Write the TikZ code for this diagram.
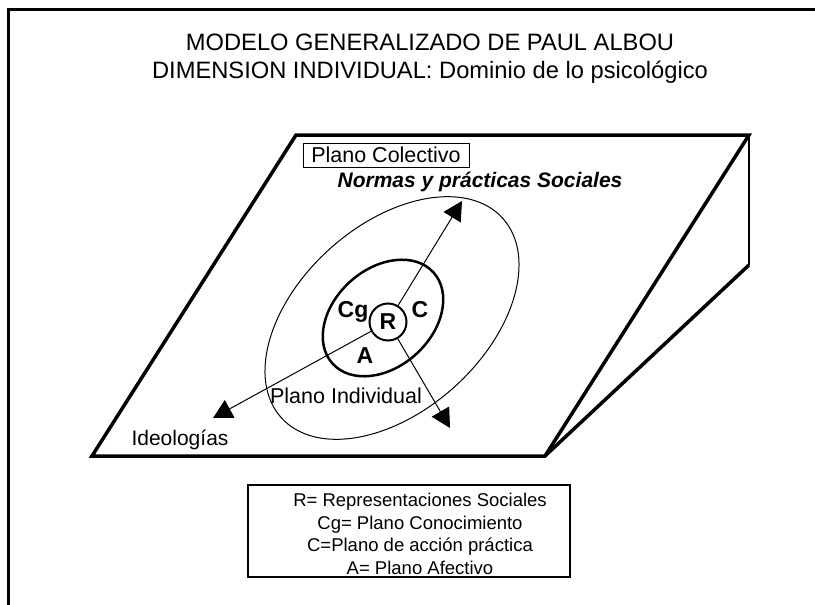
\documentclass[tikz,border=0pt]{standalone}
\usepackage{fontspec}
\setmainfont{Liberation Sans}
\usepackage{tikz}
\usetikzlibrary{arrows.meta}
\newcommand{\fsz}[2]{\fontsize{#1pt}{#2pt}\selectfont}

\begin{document}
\begin{tikzpicture}[x=1pt, y=-1pt, >={Triangle[length=19pt,width=20pt]}]
			\tikzstyle{plane}=[line width=3.5pt]
			\tikzstyle{word}=[inner sep=0pt, anchor=base]
			\tikzstyle{ray}=[line width=1pt, ->]
			\useasboundingbox (0,0) rectangle (815,605);
			%Frame
			\draw[line width=3pt] (8,605) -- (8,9) -- (815,9);
			%Title
			\node[word](title) at (430,50){\fsz{23.7}{28}MODELO GENERALIZADO DE PAUL ALBOU};
			\node[word](subtitle) at (430,78.3){\fsz{23.7}{28}DIMENSION INDIVIDUAL: Dominio de lo psicológico};
			%Collective plane
			\coordinate (p1) at (296,135);
			\coordinate (p2) at (749,135);
			\coordinate (p3) at (545,456);
			\coordinate (p4) at (92,456);
			\coordinate (f1) at (749,265);
			\draw[plane](p1) -- (p2) -- (p3) -- (p4) -- cycle;
			\draw[line width=2pt](p2) -- (f1);
			\draw[plane](f1) -- (p3);
			\node[draw, line width=1pt, minimum width=166, minimum height=24, inner sep=0pt](colectivo) at (386,155){\fsz{21.5}{24}Plano Colectivo};
			\node[word](normas) at (480,187){\fsz{21}{24}\bfseries\itshape Normas y prácticas Sociales};
			%Individual plane
			\draw[line width=1pt](392,318) ellipse [x radius=149, y radius=93, rotate=42];
			\draw[line width=2.5pt](383,318) ellipse [x radius=68, y radius=49, rotate=42];
			\node[circle, draw, line width=2pt, minimum size=37pt, inner sep=0pt](R) at (388,322){\fsz{23}{26}\bfseries R};
			\node[word](Cg) at (353,317){\fsz{23}{26}\bfseries Cg};
			\node[word](C) at (420,317){\fsz{23}{26}\bfseries C};
			\node[word](A) at (365,363){\fsz{23}{26}\bfseries A};
			\node[word](individual) at (346,403){\fsz{21.5}{24}Plano Individual};
			\node[word](ideologias) at (180,445){\fsz{21}{24}Ideologías};
			%Arrows
			\coordinate (tipN) at (462,201);
			\coordinate (tipW) at (213,418);
			\coordinate (tipS) at (450,428);
			\draw[ray](R) -- (tipN);
			\draw[ray](R) -- (tipW);
			\draw[ray](R) -- (tipS);
			%Legend
			\node[draw, line width=1.2pt, minimum width=322, minimum height=92](legend) at (409,531){};
			\node[align=center, inner sep=0pt, font=\fsz{18.5}{22.7}](key) at (420,534){R= Representaciones Sociales\\Cg= Plano Conocimiento\\C=Plano de acción práctica\\A= Plano Afectivo};
\end{tikzpicture}
\end{document}
